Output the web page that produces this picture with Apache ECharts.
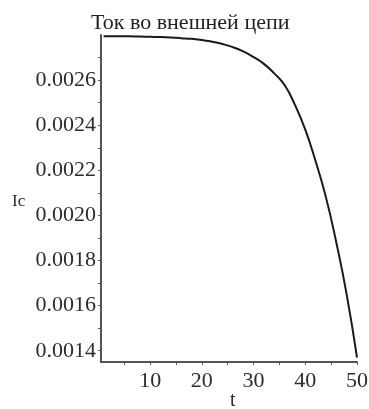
<!DOCTYPE html>
<html>
<head>
<meta charset="utf-8">
<script src="https://cdn.jsdelivr.net/npm/echarts@6/dist/echarts.min.js"></script>
<style>
html, body { margin: 0; padding: 0; background: #fff; }
#ct1 { width: 369px; height: 409px; }
</style>
</head>
<body>
<div id="ct1"></div>
<script>
// t values and external circuit current
var tValues = [1, 2, 4, 6, 8, 10, 12, 14, 16, 18, 20, 22, 24, 26, 28, 30, 32, 34, 36, 38, 40, 42, 44, 46, 48, 50];
var icValues = [0.002795, 0.002795, 0.002794, 0.002794, 0.002793, 0.002792, 0.002791, 0.002789, 0.002786, 0.002783,
	0.002778, 0.002770, 0.002760, 0.002746, 0.002727, 0.002702, 0.002672, 0.002630, 0.002578, 0.002490,
	0.002380, 0.002240, 0.002080, 0.001880, 0.001650, 0.001370];
var xLabels = [10, 20, 30, 40, 50];
var xTicks = [5, 10, 15, 20, 25, 30, 35, 40, 45, 50];
var yLabels = [0.0014, 0.0016, 0.0018, 0.0020, 0.0022, 0.0024, 0.0026];
var yTicks = [0.0014, 0.0015, 0.0016, 0.0017, 0.0018, 0.0019, 0.0020, 0.0021, 0.0022, 0.0023, 0.0024, 0.0025, 0.0026, 0.0027];

var font = 'Liberation Serif';
var textColor = '#2b2b35';
var axisColor = '#555';

var seriesData = [];
for (var i = 0; i < tValues.length; i++) {
	seriesData.push([tValues[i], icValues[i]]);
}

var option1 = {
	backgroundColor: '#fff',
	animation: false,
	title: {
		text: 'Ток во внешней цепи',
		left: 86,
		top: 7,
		textStyle: { fontFamily: font, fontSize: 22, fontWeight: 'normal', color: '#222' }
	},
	graphic: [{
		type: 'text',
		left: 12,
		top: 193,
		style: { text: 'Ic', font: '17px "Liberation Serif"', fill: textColor }
	}, {
		type: 'text',
		left: 230,
		top: 391,
		style: { text: 't', font: '20px "Liberation Serif"', fill: textColor }
	}],
	grid: { left: 101, right: 12, top: 35, bottom: 47, outerBoundsMode: 'none' },
	xAxis: {
		type: 'value',
		min: 0.5,
		max: 50,
		splitLine: { show: false },
		axisLine: { lineStyle: { color: axisColor, width: 2 } },
		axisTick: { customValues: xTicks, length: 3, lineStyle: { color: axisColor } },
		axisLabel: { customValues: xLabels, margin: 8, fontFamily: font, fontSize: 22, color: textColor }
	},
	yAxis: {
		type: 'value',
		min: 0.00135,
		max: 0.0028,
		splitLine: { show: false },
		axisLine: { lineStyle: { color: axisColor, width: 2 } },
		axisTick: { customValues: yTicks, length: 3, lineStyle: { color: axisColor } },
		axisLabel: {
			customValues: yLabels,
			margin: 5,
			fontFamily: font,
			fontSize: 22,
			color: textColor,
			formatter: function (v) { return v.toFixed(4); }
		}
	},
	series: [{
		type: 'line',
		data: seriesData,
		smooth: 0.5,
		showSymbol: false,
		lineStyle: { color: '#1a1a1a', width: 2 }
	}]
};

var myChart1 = echarts.init(document.getElementById('ct1'));
myChart1.setOption(option1, true);
</script>
</body>
</html>
